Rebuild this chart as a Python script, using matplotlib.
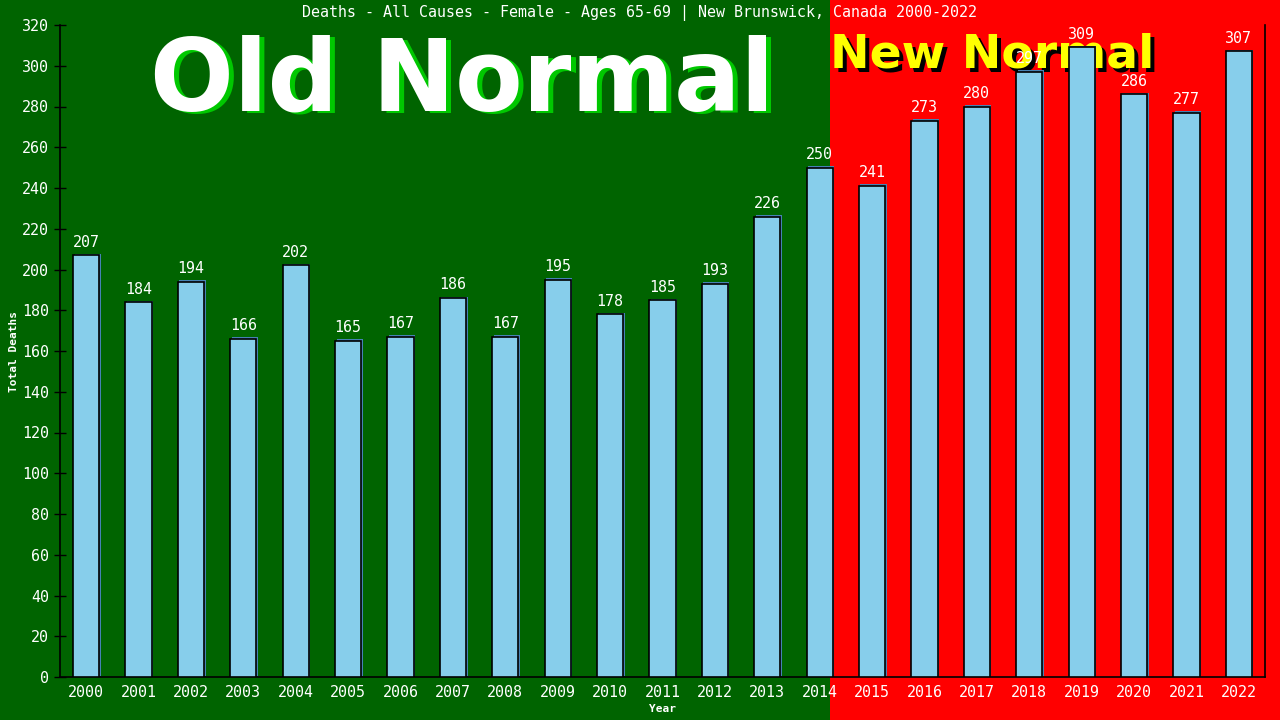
import matplotlib
matplotlib.use("Agg")
import matplotlib.pyplot as plt
import matplotlib.transforms as mtransforms
from matplotlib.patches import Rectangle

years = [str(y) for y in range(2000, 2023)]
deaths = [207, 184, 194, 166, 202, 165, 167, 186, 167, 195, 178, 185, 193,
          226, 250, 241, 273, 280, 297, 309, 286, 277, 307]
yticks = list(range(0, 321, 20))
title = "Deaths - All Causes - Female - Ages 65-69 | New Brunswick, Canada 2000-2022"

W, H = 1280, 720
fig = plt.figure(figsize=(W / 100, H / 100), dpi=100)
fig.patch.set_facecolor("#006400")

# background axes holding the two coloured zones and the big captions
bg = fig.add_axes([0, 0, 1, 1], zorder=0)
bg.set_xlim(0, 1)
bg.set_ylim(0, 1)
bg.axis("off")
split = 830 / W
bg.add_patch(Rectangle((0, 0), split, 1, facecolor="#006400", edgecolor="none"))
bg.add_patch(Rectangle((split, 0), 1 - split, 1, facecolor="#ff0000", edgecolor="none"))

big_font = "DejaVu Sans"

def shadow_text(xp, yp, s, size, fg, sh, dx, dy):
    t_sh = mtransforms.offset_copy(bg.transAxes, fig=fig, x=dx, y=dy, units="dots")
    bg.text(xp, yp, s, transform=t_sh, ha="left", va="baseline", color=sh,
            fontsize=size, family=big_font, fontweight="bold")
    bg.text(xp, yp, s, transform=bg.transAxes, ha="left", va="baseline", color=fg,
            fontsize=size, family=big_font, fontweight="bold")

shadow_text(150 / W, 1 - 111 / H, "Old Normal", 71, "white", "#00c800", 5, -1)
shadow_text(830 / W, 1 - 68 / H, "New Normal", 34, "#ffff00", "black", 4, -4)

ax = fig.add_axes([60 / W, 1 - 677 / H, (1265 - 60) / W, (677 - 25) / H], zorder=2)
ax.set_facecolor("none")
ax.patch.set_alpha(0)

mono = "DejaVu Sans Mono"
x = list(range(len(years)))
bw = 0.5
shadow = mtransforms.offset_copy(ax.transData, fig=fig, x=1.5, y=1.5, units="dots")
ax.bar(x, deaths, width=bw, color="#4682b4", edgecolor="none", transform=shadow, zorder=2)
ax.bar(x, deaths, width=bw, color="#87ceeb", edgecolor="black", linewidth=1.2, zorder=3)

for xi, v in zip(x, deaths):
    ax.annotate(str(v), (xi, v), xytext=(0, 4), textcoords="offset points",
                ha="center", va="bottom", color="white", fontsize=10.8,
                family=mono, zorder=5)

ax.set_xlim(-0.5, len(years) - 0.5)
ax.set_ylim(0, 320)
ax.set_yticks(yticks)
ax.set_xticks(x)
ax.set_xticklabels(years)
ax.tick_params(axis="y", colors="black", labelcolor="white", labelsize=10.8,
               length=8, width=1, direction="inout", pad=4)
ax.tick_params(axis="x", length=0, labelcolor="white", labelsize=10.8, pad=6)
for lab in ax.get_xticklabels() + ax.get_yticklabels():
    lab.set_family(mono)
for s in ["left", "bottom", "right"]:
    ax.spines[s].set_color("black")
    ax.spines[s].set_linewidth(1.2)
ax.spines["top"].set_visible(False)

ax.set_ylabel("Total Deaths", color="white", fontsize=8, family=mono,
              fontweight="bold", labelpad=2)
ax.set_xlabel("Year", color="white", fontsize=8, family=mono,
              fontweight="bold", labelpad=3)

fig.text(0.5, 1 - 13 / H, title, ha="center", va="center", color="white",
         fontsize=10.8, family=mono, zorder=5)

fig.savefig("out.png", dpi=100, facecolor=fig.get_facecolor())
